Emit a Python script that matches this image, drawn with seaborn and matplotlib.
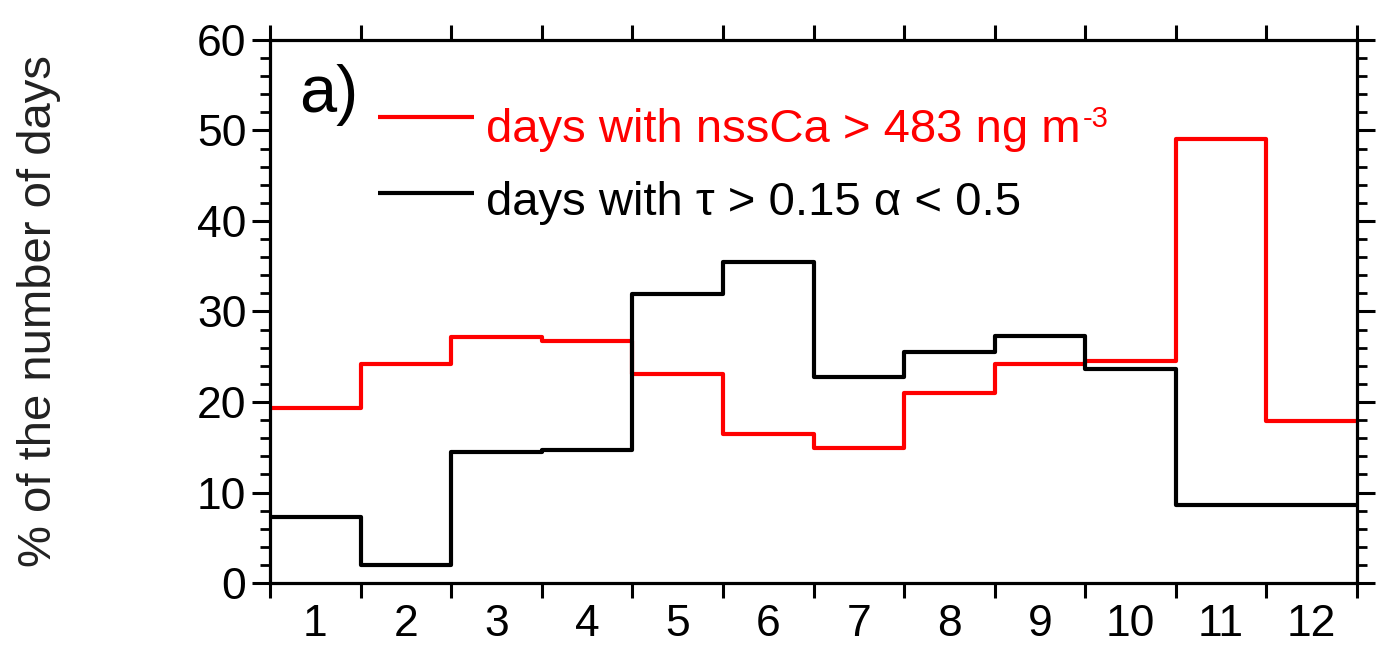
import numpy as np
import pandas as pd
import matplotlib
matplotlib.use("Agg")
import matplotlib.pyplot as plt
from matplotlib.ticker import MultipleLocator, FixedLocator, NullFormatter, FixedFormatter
import seaborn as sns

# Monthly share of days (%) meeting each dust criterion
months = [1, 2, 3, 4, 5, 6, 7, 8, 9, 10, 11, 12]
nssca_days = [19.3, 24.2, 27.2, 26.7, 23.1, 16.5, 14.9, 21.0, 24.2, 24.5, 49.1, 17.9]
aod_days = [7.3, 2.0, 14.5, 14.7, 31.9, 35.5, 22.8, 25.5, 27.3, 23.6, 8.6, 8.6]
month_labels = [str(m) for m in months]

label_nssca = "days with nssCa > 483 ng m"
label_nssca_exp = "-3"
label_aod = "days with \u03c4 > 0.15 \u03b1 < 0.5"
panel_tag = "a)"
ylabel = "% of the number of days"

sns.set_theme(style="ticks")
plt.rcParams["font.family"] = ["Liberation Sans", "DejaVu Sans"]

# Bin edges: each month spans [m-0.5, m+0.5]; the last value is repeated
# so the final step runs to the right edge.
edges = np.arange(0.5, 13.5, 1.0)
df = pd.DataFrame({
    "edge": np.concatenate([edges, edges]),
    "pct": np.concatenate([nssca_days + [nssca_days[-1]], aod_days + [aod_days[-1]]]),
    "series": ["nssCa"] * len(edges) + ["aod"] * len(edges),
})

fig = plt.figure(figsize=(13.8, 6.48), dpi=100)
ax = fig.add_axes([0.1957, 0.1003, 0.7876, 0.838])

sns.lineplot(data=df, x="edge", y="pct", hue="series",
             palette={"nssCa": "#ff0000", "aod": "#000000"},
             drawstyle="steps-post", linewidth=3.0, legend=False, ax=ax,
             estimator=None, sort=False)

ax.set_xlim(0.5, 12.5)
ax.set_ylim(0, 60)

# Ticks: majors at bin edges on x (unlabelled), month labels at centres
ax.xaxis.set_major_locator(FixedLocator(edges))
ax.xaxis.set_major_formatter(NullFormatter())
ax.xaxis.set_minor_locator(FixedLocator(months))
ax.xaxis.set_minor_formatter(FixedFormatter(month_labels))
ax.yaxis.set_major_locator(MultipleLocator(10))
ax.yaxis.set_minor_locator(MultipleLocator(2))

ax.tick_params(axis="both", which="both", direction="out", top=True, right=True,
               colors="black", labelsize=32)
ax.tick_params(axis="y", which="major", length=13, width=2.2, pad=4)
ax.tick_params(axis="y", which="minor", length=7, width=2.0)
ax.tick_params(axis="x", which="major", length=11, width=2.2)
ax.tick_params(axis="x", which="minor", length=0, pad=15)

for sp in ax.spines.values():
    sp.set_linewidth(2.3)
    sp.set_color("black")

ax.set_xlabel("")
ax.set_ylabel(ylabel, fontsize=34, color="#222222")
ax.yaxis.set_label_coords(-0.192, 0.5)

# Panel tag and legend
ax.text(0.027, 0.868, panel_tag, transform=ax.transAxes, fontsize=48,
        ha="left", va="baseline", color="black")

ax.plot([0.099, 0.188], [0.858, 0.858], transform=ax.transAxes,
        color="#ff0000", lw=3.0, solid_capstyle="butt")
t1 = ax.text(0.199, 0.812, label_nssca, transform=ax.transAxes, fontsize=34,
             color="#ff0000", ha="left", va="baseline")
ax.annotate(label_nssca_exp, xy=(1, 1), xycoords=t1, xytext=(1, 2),
            textcoords="offset points", fontsize=21, color="#ff0000",
            ha="left", va="top")
ax.plot([0.099, 0.188], [0.718, 0.718], transform=ax.transAxes,
        color="black", lw=3.0, solid_capstyle="butt")
ax.text(0.199, 0.678, label_aod, transform=ax.transAxes, fontsize=34,
        color="black", ha="left", va="baseline")

fig.savefig("out.png", dpi=100, facecolor="white")
